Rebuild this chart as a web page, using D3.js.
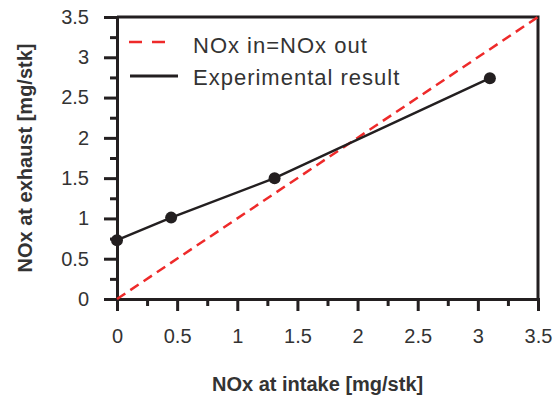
<!DOCTYPE html>
<html>
<head>
<meta charset="utf-8">
<script src="https://cdn.jsdelivr.net/npm/d3@7"></script>
<style>
  body { margin: 0; background: #fff; }
  svg { display: block; font-family: "Liberation Sans", Arial, sans-serif; }
</style>
</head>
<body>
<div id="chart"></div>
<script>
// measured points
const intake = [0, 0.45, 1.31, 3.1];
const exhaust = [0.73, 1.01, 1.5, 2.74];
// reference line NOx in = NOx out
const refLine = [0, 3.5];
const majorTicks = [0, 0.5, 1, 1.5, 2, 2.5, 3, 3.5];
const minorTicks = [0.25, 0.75, 1.25, 1.75, 2.25, 2.75, 3.25];
const legendLabels = ["NOx in=NOx out", "Experimental result"];

const width = 554, height = 398;
const plotLeft = 117, plotRight = 538, plotTop = 17, plotBottom = 299;
const ink = "#231f20", textCol = "#333", red = "#ee2a2a";

const svg = d3.select("#chart").append("svg")
  .attr("width", width)
  .attr("height", height);

const x = d3.scaleLinear().domain([0, 3.5]).range([plotLeft, plotRight]);
const y = d3.scaleLinear().domain([0, 3.5]).range([plotBottom, plotTop]);

// frame top / right
svg.append("path")
  .attr("d", `M${plotLeft},${plotTop}H${plotRight}V${plotBottom}`)
  .attr("fill", "none")
  .attr("stroke", ink)
  .attr("stroke-width", 3);

// axes
const fmt = d => d3.format("")(d);
const xAxis = svg.append("g").attr("transform", `translate(0,${plotBottom})`)
  .call(d3.axisBottom(x).tickValues(majorTicks).tickFormat(fmt).tickSize(12).tickPadding(18));
const xMinor = svg.append("g").attr("transform", `translate(0,${plotBottom})`)
  .call(d3.axisBottom(x).tickValues(minorTicks).tickFormat("").tickSize(7));
const yAxis = svg.append("g").attr("transform", `translate(${plotLeft},0)`)
  .call(d3.axisLeft(y).tickValues(majorTicks).tickFormat(fmt).tickSize(13).tickPadding(15));
const yMinor = svg.append("g").attr("transform", `translate(${plotLeft},0)`)
  .call(d3.axisLeft(y).tickValues(minorTicks).tickFormat("").tickSize(7));

[xAxis, xMinor, yAxis, yMinor].forEach(g => {
  g.select(".domain").attr("stroke", ink).attr("stroke-width", 3);
  g.selectAll(".tick line").attr("stroke", ink).attr("stroke-width", 3);
  g.selectAll("text").attr("fill", textCol).style("font-size", "20px").style("font-family", "Liberation Sans, Arial, sans-serif");
});

// reference diagonal
svg.append("line")
  .attr("x1", x(refLine[0])).attr("y1", y(refLine[0]))
  .attr("x2", x(refLine[1])).attr("y2", y(refLine[1]))
  .attr("stroke", red)
  .attr("stroke-width", 2.5)
  .attr("stroke-dasharray", "10,6");

// experimental result
const pts = intake.map((v, i) => [v, exhaust[i]]);
svg.append("path")
  .datum(pts)
  .attr("fill", "none")
  .attr("stroke", ink)
  .attr("stroke-width", 2.5)
  .attr("d", d3.line().x(d => x(d[0])).y(d => y(d[1])));

svg.append("g").selectAll("circle")
  .data(pts)
  .enter()
  .append("circle")
  .attr("cx", d => x(d[0]))
  .attr("cy", d => y(d[1]))
  .attr("r", 6)
  .attr("fill", ink);

// legend
const legend = svg.append("g");
legend.append("line")
  .attr("x1", 129).attr("x2", 167).attr("y1", 42).attr("y2", 42)
  .attr("stroke", red).attr("stroke-width", 2.5).attr("stroke-dasharray", "13,10");
legend.append("line")
  .attr("x1", 130).attr("x2", 178).attr("y1", 76).attr("y2", 76)
  .attr("stroke", ink).attr("stroke-width", 3);
legend.selectAll("text")
  .data(legendLabels)
  .enter()
  .append("text")
  .attr("x", 193)
  .attr("y", (d, i) => 53 + i * 32)
  .style("font-size", "22px")
  .style("letter-spacing", "1px")
  .attr("fill", textCol)
  .text(d => d);

// axis titles
svg.append("text")
  .attr("x", 212)
  .attr("y", 391)
  .style("font-size", "20px")
  .style("font-weight", "bold")
  .attr("fill", textCol)
  .text("NOx at intake [mg/stk]");

svg.append("text")
  .attr("transform", "translate(32,158) rotate(-90)")
  .attr("text-anchor", "middle")
  .style("font-size", "20px")
  .style("font-weight", "bold")
  .attr("fill", textCol)
  .text("NOx at exhaust [mg/stk]");
</script>
</body>
</html>
